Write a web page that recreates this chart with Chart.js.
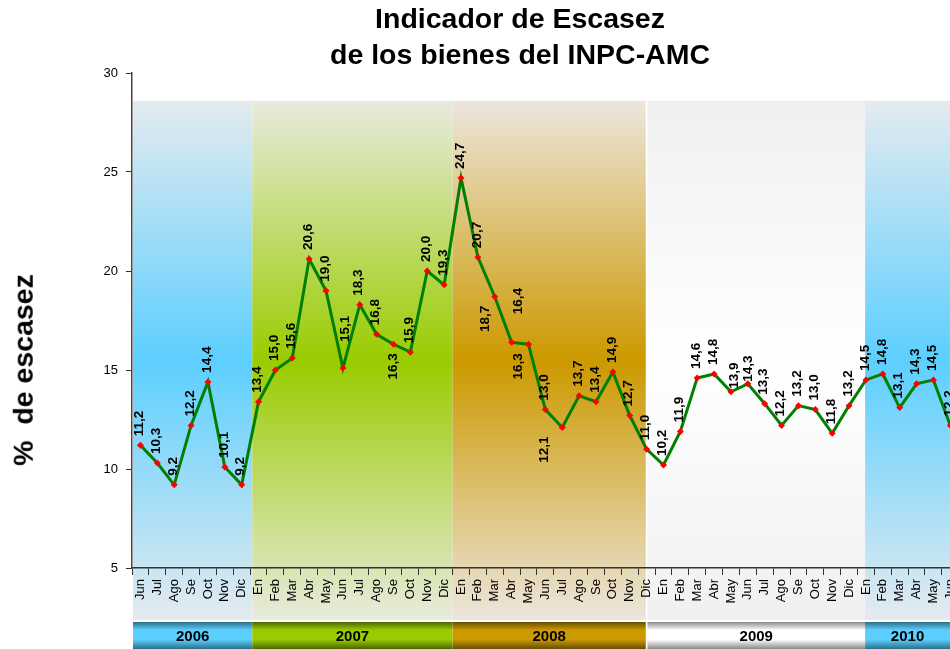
<!DOCTYPE html>
<html lang="es">
<head>
    <meta charset="UTF-8">
    <title>Indicador de Escasez</title>
    <script src="https://cdn.jsdelivr.net/npm/chart.js"></script>
    <style>
        html, body {
            margin: 0;
            padding: 0;
            width: 950px;
            height: 649px;
            overflow: hidden;
            background: #ffffff;
            font-family: "Liberation Sans", Arial, sans-serif;
        }
        #wrap {
            position: relative;
            width: 970px;
            height: 649px;
        }
        #titulo {
            position: absolute;
            left: 0;
            top: 0px;
            width: 1040px;
            text-align: center;
            font-weight: bold;
            font-size: 28.5px;
            line-height: 36px;
            color: #000;
        }
        #ytitulo {
            position: absolute;
            left: 23px;
            top: 370px;
            transform: translate(-50%, -50%) rotate(-90deg);
            font-weight: bold;
            font-size: 28.5px;
            line-height: 1;
            white-space: pre;
            color: #000;
        }
        canvas { position: absolute; left: 0; top: 0; }
    </style>
</head>
<body>
<div id="wrap">
    <canvas id="grafica" width="970" height="649"></canvas>
    <div id="titulo">Indicador de Escasez<br>de los bienes del INPC-AMC</div>
    <div id="ytitulo">%  de escasez</div>
</div>

<script>
    // meses (jun 2006 - jun 2010)
    const meses2006 = ['Jun', 'Jul', 'Ago', 'Se', 'Oct', 'Nov', 'Dic'];
    const mesesAnio = ['En', 'Feb', 'Mar', 'Abr', 'May', 'Jun', 'Jul', 'Ago', 'Se', 'Oct', 'Nov', 'Dic'];
    const meses2010 = ['En', 'Feb', 'Mar', 'Abr', 'May', 'Jun'];

    const esc2006 = [11.2, 10.3, 9.2, 12.2, 14.4, 10.1, 9.2];
    const esc2007 = [13.4, 15.0, 15.6, 20.6, 19.0, 15.1, 18.3, 16.8, 16.3, 15.9, 20.0, 19.3];
    const esc2008 = [24.7, 20.7, 18.7, 16.4, 16.3, 13.0, 12.1, 13.7, 13.4, 14.9, 12.7, 11.0];
    const esc2009 = [10.2, 11.9, 14.6, 14.8, 13.9, 14.3, 13.3, 12.2, 13.2, 13.0, 11.8, 13.2];
    const esc2010 = [14.5, 14.8, 13.1, 14.3, 14.5, 12.2];

    const anios = ['2006', '2007', '2008', '2009', '2010'];
    const yTicks = [5, 10, 15, 20, 25, 30];

    const etiquetas = [].concat(meses2006, mesesAnio, mesesAnio, mesesAnio, meses2010);
    const valores = [].concat(esc2006, esc2007, esc2008, esc2009, esc2010);

    // franjas de fondo por año (en posiciones de categoria) y colores
    const franjas = [
        { desde: -0.5, hasta: 6.63, borde: '#e4ebef', centro: '#5ccfff', oscuro: '#2c6e88' },
        { desde: 6.63, hasta: 18.5, borde: '#e8ebde', centro: '#99cc00', oscuro: '#4a6600' },
        { desde: 18.5, hasta: 29.95, borde: '#ece6dd', centro: '#cc9900', oscuro: '#664c00' },
        { desde: 30.05, hasta: 42.95, borde: '#f0f0f0', centro: '#ffffff', oscuro: '#8a8a8a' },
        { desde: 42.95, hasta: 48.5, borde: '#e4ebef', centro: '#5ccfff', oscuro: '#2c6e88' }
    ];

    // etiquetas que van debajo del punto: indice -> desplazamiento x
    const debajo = { 15: 0, 21: -9, 23: -10, 25: -18 };
    // ajustes sueltos de las de arriba: indice -> [dx, separacion]
    const ajuste = { 12: [2, 26], 22: [7, 28], 35: [3, 3], 36: [0, 2] };

    const fondoAnios = {
        id: 'fondoAnios',
        beforeDraw(chart) {
            const ctx = chart.ctx;
            const x = chart.scales.x;
            const y = chart.scales.y;
            const area = chart.chartArea;
            const top = y.getPixelForValue(28.6);
            const bottom = area.bottom + 52;
            ctx.save();
            franjas.forEach(f => {
                const x0 = Math.max(x.getPixelForValue(f.desde), area.left + 1);
                const x1 = x.getPixelForValue(f.hasta);
                const g = ctx.createLinearGradient(0, top, 0, bottom);
                g.addColorStop(0, f.borde);
                g.addColorStop(0.5, f.centro);
                g.addColorStop(1, f.borde);
                ctx.fillStyle = g;
                ctx.fillRect(x0, top, x1 - x0, bottom - top);
            });
            ctx.restore();
        },
        afterDraw(chart) {
            const ctx = chart.ctx;
            const x = chart.scales.x;
            const area = chart.chartArea;
            const y0 = area.bottom + 54;
            const h = 27;
            ctx.save();
            franjas.forEach((f, i) => {
                const x0 = Math.max(x.getPixelForValue(f.desde), area.left + 1);
                const x1 = x.getPixelForValue(f.hasta);
                const g = ctx.createLinearGradient(0, y0, 0, y0 + h);
                g.addColorStop(0, f.oscuro);
                g.addColorStop(0.3, f.centro);
                g.addColorStop(0.65, f.centro);
                g.addColorStop(1, f.oscuro);
                ctx.fillStyle = g;
                ctx.fillRect(x0, y0, x1 - x0, h);
                ctx.fillStyle = '#000';
                ctx.font = 'bold 15px "Liberation Sans", Arial, sans-serif';
                ctx.textAlign = 'center';
                ctx.textBaseline = 'middle';
                const cx = (x0 + Math.min(x1, 950)) / 2;
                ctx.fillText(anios[i], cx, y0 + h / 2 + 1);
            });
            ctx.restore();
        }
    };

    const etiquetasDatos = {
        id: 'etiquetasDatos',
        afterDatasetsDraw(chart) {
            const ctx = chart.ctx;
            const meta = chart.getDatasetMeta(0);
            ctx.save();
            ctx.font = 'bold 13.5px "Liberation Sans", Arial, sans-serif';
            ctx.fillStyle = '#000';
            ctx.textBaseline = 'middle';
            meta.data.forEach((p, i) => {
                const txt = valores[i].toFixed(1).replace('.', ',');
                const abajo = debajo.hasOwnProperty(i);
                const aj = ajuste[i] || [-1, 9];
                ctx.save();
                ctx.translate(p.x + (abajo ? debajo[i] : aj[0]), p.y);
                ctx.rotate(-Math.PI / 2);
                if (abajo) {
                    ctx.textAlign = 'right';
                    ctx.fillText(txt, -9, 0);
                } else {
                    ctx.textAlign = 'left';
                    ctx.fillText(txt, aj[1], 0);
                }
                ctx.restore();
            });
            ctx.restore();
        }
    };

    const ctx = document.getElementById('grafica').getContext('2d');
    new Chart(ctx, {
        type: 'line',
        data: {
            labels: etiquetas,
            datasets: [{
                data: valores,
                borderColor: '#008000',
                borderWidth: 3,
                pointStyle: 'rectRot',
                pointRadius: 3.5,
                pointBackgroundColor: '#ff0000',
                pointBorderColor: '#ff0000',
                pointBorderWidth: 0,
                tension: 0
            }]
        },
        options: {
            responsive: false,
            animation: false,
            layout: { padding: { left: 72, top: 73, right: 10, bottom: 29 } },
            plugins: {
                legend: { display: false },
                tooltip: { enabled: false },
                title: { display: false }
            },
            scales: {
                x: {
                    type: 'category',
                    offset: true,
                    afterFit(scale) { scale.height = 52; },
                    grid: { offset: true, drawOnChartArea: false, tickLength: 7, color: '#333' },
                    border: { color: '#333', width: 1.5 },
                    ticks: {
                        autoSkip: false,
                        maxRotation: 90,
                        minRotation: 90,
                        padding: 4,
                        color: '#000',
                        font: { family: '"Liberation Sans", Arial, sans-serif', size: 13 }
                    }
                },
                y: {
                    min: 5,
                    max: 30,
                    afterFit(scale) { scale.width = 60; },
                    afterBuildTicks(scale) { scale.ticks = yTicks.map(v => ({ value: v })); },
                    grid: { drawOnChartArea: false, tickLength: 6, color: '#333' },
                    border: { color: '#444', width: 1.5 },
                    ticks: {
                        padding: 8,
                        color: '#000',
                        font: { family: '"Liberation Sans", Arial, sans-serif', size: 13 }
                    }
                }
            }
        },
        plugins: [fondoAnios, etiquetasDatos]
    });
</script>
</body>
</html>
